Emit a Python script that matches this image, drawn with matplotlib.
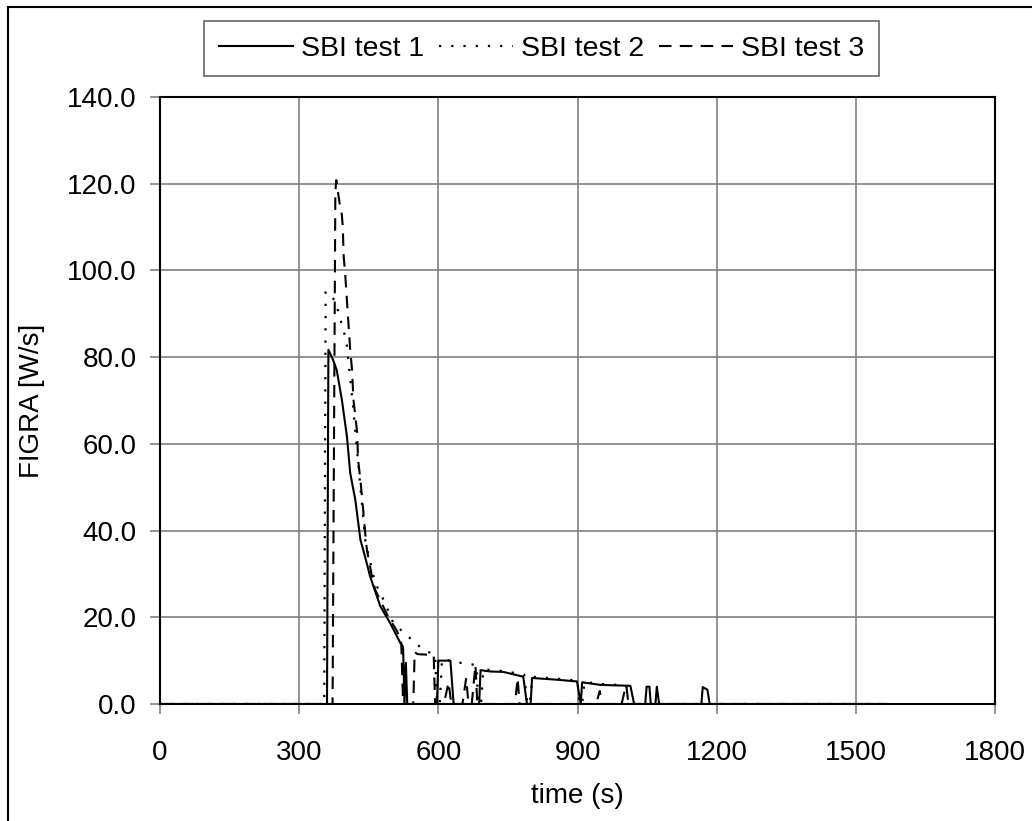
import matplotlib
matplotlib.use("Agg")
import matplotlib.pyplot as plt
from matplotlib.patches import Rectangle
from matplotlib.ticker import FormatStrFormatter

plt.rcParams['font.family'] = ['Liberation Sans', 'DejaVu Sans']

# FIGRA curves (time in s, FIGRA in W/s)
t_test1 = [0, 360, 363, 373, 381, 392, 403, 410, 421, 432, 442, 453, 475, 496, 518, 524, 527,
           530, 533, 597, 600, 626, 633, 688, 691, 712, 740, 783, 791, 799, 802, 856, 899,
           907, 910, 950, 1014, 1022, 1046, 1049, 1055, 1058, 1068, 1071, 1076, 1167, 1170,
           1180, 1185, 1570]
figra_test1 = [0, 0, 81.7, 79.4, 77.0, 70.2, 61.7, 53.3, 47.1, 37.9, 34.0, 29.4, 22.5, 18.7, 14.1, 13.2, 0,
               9.5, 0, 0, 10.0, 10.0, 0, 0, 7.8, 7.5, 7.4, 6.3, 0, 0, 6.0, 5.6, 5.2,
               0, 5.0, 4.4, 4.2, 0, 0, 4.0, 4.0, 0, 0, 4.0, 0, 0, 3.9,
               3.3, 0, 0]

t_test2 = [0, 354, 357, 360, 378, 385, 392, 399, 403, 417, 428, 443, 464, 482, 503, 525,
           543, 568, 593, 597, 603, 608, 640, 682, 686, 692, 697, 740, 785, 792, 797, 803,
           860, 900, 904, 910, 915, 950, 1005, 1010, 1560]
figra_test2 = [0, 0, 95.0, 95.2, 92.9, 90.2, 87.5, 84.8, 82.5, 67.8, 54.7, 37.2, 27.9, 24.0, 18.7, 16.5,
               14.8, 12.5, 11.3, 0, 0, 10.4, 9.6, 9.0, 0, 0, 8.0, 7.6, 6.8, 0, 0, 6.3,
               5.8, 5.4, 0, 0, 5.1, 4.6, 4.3, 0, 0]

t_test3 = [0, 372, 378, 380, 387, 392, 394, 396, 399, 403, 410, 414, 417, 425, 427, 432,
           438, 443, 446, 457, 464, 492, 510, 520, 524, 546, 549, 555, 590, 593, 612, 622,
           628, 652, 660, 665, 672, 680, 684, 765, 771, 775, 940, 948, 952, 995, 1005,
           1010, 1560]
figra_test3 = [0, 0, 118.0, 120.8, 115.6, 112.8, 110.1, 103.2, 99.5, 93.0, 81.7, 77.0, 70.2, 62.6, 56.3, 51.7,
               44.8, 38.6, 35.6, 29.4, 26.3, 20.1, 17.0, 14.5, 0, 0, 12.0, 11.5, 11.3, 0, 0, 5.0,
               0, 0, 6.0, 0, 0, 9.0, 0, 0, 6.0, 0, 0, 3.0, 0, 0, 4.5,
               0, 0]

x_ticks = [0, 300, 600, 900, 1200, 1500, 1800]
y_ticks = [0, 20, 40, 60, 80, 100, 120, 140]

fig = plt.figure(figsize=(10.32, 8.21), dpi=100)
ax = fig.add_axes([160 / 1032, 117 / 821, 835 / 1032, 607 / 821])

ax.plot(t_test1, figra_test1, color='black', lw=1.5, label='SBI test 1')
ax.plot(t_test2, figra_test2, color='black', lw=1.6, linestyle=(0, (1, 4.5)), label='SBI test 2')
ax.plot(t_test3, figra_test3, color='black', lw=1.5, linestyle=(0, (6, 4)), label='SBI test 3')

ax.set_xlim(0, 1800)
ax.set_ylim(0, 140)
ax.set_xticks(x_ticks)
ax.set_yticks(y_ticks)
ax.yaxis.set_major_formatter(FormatStrFormatter('%.1f'))
ax.grid(True, color='#808080', lw=1.2)
ax.set_axisbelow(True)
for s in ax.spines.values():
    s.set_color('black')
    s.set_linewidth(1.5)
ax.tick_params(axis='both', direction='out', length=7, width=1.2, color='#808080',
               labelsize=20)
ax.tick_params(axis='x', pad=19)
ax.tick_params(axis='y', pad=10)

ax.set_xlabel('time (s)', fontsize=20, labelpad=12)
ax.set_ylabel('FIGRA [W/s]', fontsize=20, labelpad=16)

leg = fig.legend(loc='center', bbox_to_anchor=(541.5 / 1032, 1 - 48.5 / 821), ncol=3,
                 fontsize=20.5, frameon=True, fancybox=False, handlelength=2.6,
                 handletextpad=0.3, columnspacing=0.5, borderpad=0.5, borderaxespad=0)
leg.get_frame().set_edgecolor('#404040')
leg.get_frame().set_linewidth(1.2)

# outer chart border (left/top visible)
fig.add_artist(Rectangle((8 / 1032, -0.05), 1.2, 1 - 7 / 821 + 0.05, transform=fig.transFigure,
                         fill=False, edgecolor='black', lw=1.5))

fig.savefig('out.png', dpi=100)
